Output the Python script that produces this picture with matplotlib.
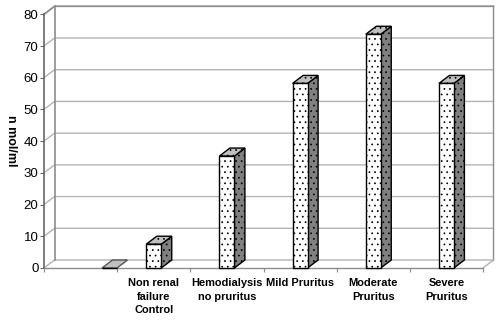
import matplotlib as mpl
mpl.use("Agg")
import matplotlib.pyplot as plt
from matplotlib.patches import Polygon

mpl.rcParams.update({
    "font.family": ["Liberation Sans", "DejaVu Sans"],
    "hatch.linewidth": 0.5,
})

# data
CATEGORIES = ["", "Non renal\nfailure\nControl", "Hemodialysis\nno pruritus",
              "Mild Pruritus", "Moderate\nPruritus", "Severe\nPruritus"]
VALUES = [0, 7.5, 35.3, 58.2, 73.7, 58.2]
Y_TICKS = [0, 10, 20, 30, 40, 50, 60, 70, 80]

# style
W, H = 500, 321
LEFT, RIGHT, TOP, BOTTOM = 44, 483, 14.3, 268   # front plane, px
DX = 10.5 / ((RIGHT - LEFT) / 6)                # depth in data units
DY = 8 / ((BOTTOM - TOP) / 80)
BAR_W = 15 / ((RIGHT - LEFT) / 6)
C_GRID = "#b4b4b4"
C_WALL = "#8c8c8c"
C_AXIS = "#666666"
HATCH = "..."


def main():
    fig = plt.figure(figsize=(W / 100, H / 100), dpi=100)
    ax = fig.add_axes([LEFT / W, 1 - BOTTOM / H, (RIGHT - LEFT) / W, (BOTTOM - TOP) / H])
    ax.set_xlim(0, 6)
    ax.set_ylim(0, 80)

    for s in ["top", "right"]:
        ax.spines[s].set_visible(False)
    ax.spines["left"].set_color(C_AXIS)
    ax.spines["left"].set_linewidth(1.2)
    ax.spines["bottom"].set_color("#8c8c8c")
    ax.spines["bottom"].set_linewidth(1.0)

    _draw_walls(ax)
    _draw_bars(ax)

    ax.set_yticks(Y_TICKS)
    ax.tick_params(axis="y", length=3, width=0.8, color=C_AXIS, labelsize=9.5, pad=1)
    ax.set_xticks(range(7))
    ax.set_xticklabels([])
    ax.tick_params(axis="x", which="major", length=3, width=0.8, color="#8c8c8c")
    ax.set_xticks([i + 0.5 for i in range(6)], minor=True)
    ax.set_xticklabels(CATEGORIES, minor=True, fontsize=7.9, fontweight="bold",
                       linespacing=1.42)
    ax.tick_params(axis="x", which="minor", length=0, pad=7.5)

    fig.text(11 / W, 1 - 141 / H, "n mol/ml", rotation=270, ha="center", va="center",
             fontsize=9, fontweight="bold")

    fig.savefig("out.png", dpi=100)
    plt.close(fig)


def _draw_walls(ax):
    # gridlines: side wall diagonal + back wall
    for v in Y_TICKS:
        ax.plot([0, DX, 6 + DX], [v, v + DY, v + DY], color=C_GRID, lw=1.0,
                clip_on=False, zorder=1, solid_joinstyle="miter")
    ax.plot([0, DX, 6 + DX], [80, 80 + DY, 80 + DY], color=C_WALL, lw=1.2,
            clip_on=False, zorder=1.2)
    ax.plot([DX, DX], [DY, 80 + DY], color=C_WALL, lw=1.2, clip_on=False, zorder=1.2)
    ax.plot([6 + DX, 6 + DX], [DY, 80 + DY], color=C_WALL, lw=1.0, clip_on=False, zorder=1.2)
    ax.plot([6, 6 + DX], [0, DY], color=C_GRID, lw=1.0, clip_on=False, zorder=1.2)


def _draw_bars(ax):
    centers = [i + 0.5 for i in range(len(VALUES))]
    centers[0] += 0.395   # empty first category sits off-centre in the source
    ax.bar(centers, VALUES, width=BAR_W, facecolor="white", edgecolor="black",
           hatch=HATCH, linewidth=1.0, zorder=4, clip_on=False)
    for x, v in zip(centers, VALUES):
        l, r = x - BAR_W / 2, x + BAR_W / 2
        side = [(r, 0), (r + DX, DY), (r + DX, v + DY), (r, v)]
        top = [(l, v), (r, v), (r + DX, v + DY), (l + DX, v + DY)]
        if v > 0:
            ax.add_patch(Polygon(side, closed=True, facecolor="#808080", edgecolor="black",
                                 hatch=HATCH, lw=1.0, zorder=3, clip_on=False))
        ax.add_patch(Polygon(top, closed=True, facecolor="#c0c0c0", edgecolor="black" if v > 0 else "#555555",
                             hatch=HATCH if v > 0 else None, lw=1.0, zorder=3, clip_on=False))


if __name__ == "__main__":
    main()
